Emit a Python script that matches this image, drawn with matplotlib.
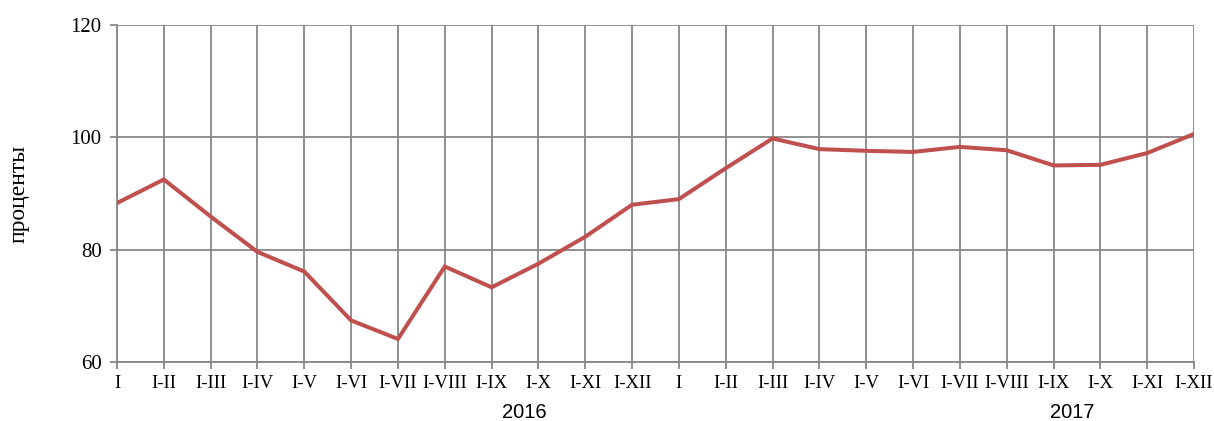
import matplotlib
matplotlib.use("Agg")
import matplotlib.pyplot as plt
import matplotlib.transforms as mtransforms

# period labels (cumulative months), two years
periods = ["I", "I-II", "I-III", "I-IV", "I-V", "I-VI", "I-VII", "I-VIII",
           "I-IX", "I-X", "I-XI", "I-XII"]
tick_labels = periods + periods
years = ["2016", "2017"]

# percent values
values = [88.3, 92.5, 85.9, 79.6, 76.1, 67.4, 64.1, 77.0, 73.3, 77.5, 82.3, 88.0,
          89.0, 94.5, 99.8, 97.9, 97.6, 97.4, 98.3, 97.7, 95.0, 95.1, 97.2, 100.6]

grid_col = "#878787"
line_col = "#C0504D"
serif = ["Liberation Serif", "DejaVu Serif"]

fig = plt.figure(figsize=(12.14, 4.21), dpi=100)
ax = fig.add_axes([117 / 1214, 1 - 362 / 421, (1194 - 117) / 1214, (362 - 25) / 421])

x = list(range(len(values)))
ax.plot(x, values, color=line_col, linewidth=2.9, solid_joinstyle="miter", zorder=3)

ax.set_xlim(0, len(values) - 1)
ax.set_ylim(60, 120)
ax.set_yticks([60, 80, 100, 120])
ax.set_xticks(x)
ax.set_xticklabels(tick_labels, fontfamily=serif, fontsize=13.5)
for lab in ax.get_yticklabels():
    lab.set_fontfamily(serif)
    lab.set_fontsize(15)

ax.grid(True, color=grid_col, linewidth=1.3)
ax.set_axisbelow(True)
for side in ["top", "right"]:
    ax.spines[side].set_visible(False)
for side in ["left", "bottom"]:
    ax.spines[side].set_color(grid_col)
    ax.spines[side].set_linewidth(1.3)
ax.tick_params(axis="both", colors=grid_col, length=5, width=1.3, labelcolor="black")
ax.tick_params(axis="x", pad=4)
ax.tick_params(axis="y", pad=6)

ax.set_ylabel("проценты", fontfamily=serif, fontsize=17)
ax.yaxis.set_label_coords(-0.081, 0.5)

# year captions under the period labels
trans = mtransforms.blended_transform_factory(ax.transData, fig.transFigure)
ax.text(8.7, 1 - 412 / 421, years[0], transform=trans, ha="center", va="center",
        fontfamily=["Liberation Sans", "DejaVu Sans"], fontsize=14.5)
ax.text(20.4, 1 - 412 / 421, years[1], transform=trans, ha="center", va="center",
        fontfamily=["Liberation Sans", "DejaVu Sans"], fontsize=14.5)

fig.savefig("out.png", dpi=100)
